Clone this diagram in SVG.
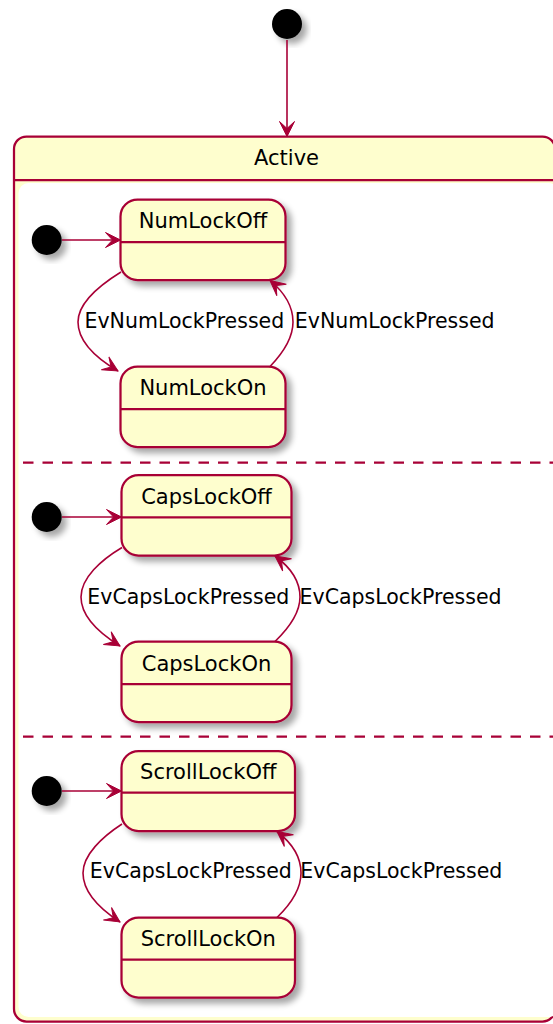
<svg xmlns="http://www.w3.org/2000/svg" width="553" height="1024" viewBox="0 0 553 1024">
<defs>
<style>
.st{fill:#FEFECE;stroke:#A80036;stroke-width:2.25}
.sep{stroke:#A80036;stroke-width:2.25;fill:none}
.nm{font-family:"DejaVu Sans",sans-serif;font-size:21px;fill:#000;text-anchor:middle}
.lb{font-family:"DejaVu Sans",sans-serif;font-size:20.5px;fill:#000}
.ed{fill:none;stroke:#A80036;stroke-width:1.6;marker-end:url(#ah)}
.init{fill:#000}
.dash{stroke:#A80036;stroke-width:2.25;stroke-dasharray:10.5,9;fill:none}
</style>
<marker id="ah" viewBox="-17 -9 19 18" refX="0" refY="0" markerWidth="19" markerHeight="18" markerUnits="userSpaceOnUse" orient="auto">
<path d="M0,0 L-15,-7.5 L-8,0 L-15,7.5 Z" fill="#A80036" stroke="#A80036" stroke-width="1"/>
</marker>
<filter id="sh" x="-20%" y="-20%" width="150%" height="150%">
<feGaussianBlur in="SourceAlpha" stdDeviation="3"/>
<feOffset dx="5" dy="5"/>
<feComponentTransfer><feFuncA type="linear" slope="0.35"/></feComponentTransfer>
<feMerge><feMergeNode/><feMergeNode in="SourceGraphic"/></feMerge>
</filter>
</defs>
<rect width="553" height="1024" fill="#fff"/>

<g id="start">
<circle class="init" cx="287" cy="24" r="15" filter="url(#sh)"/>
</g>

<g id="Active">
<rect class="st" x="14" y="136.5" width="541" height="885" rx="12.5"/>
<rect x="18.5" y="183" width="540" height="834" rx="10" fill="#fff"/>
<line class="sep" x1="14" y1="180" x2="555" y2="180"/>
<text class="nm" x="286.5" y="165">Active</text>
<line class="dash" x1="23" y1="462.7" x2="553" y2="462.7"/>
<line class="dash" x1="23" y1="736.7" x2="553" y2="736.7"/>
</g>

<g id="init1"><circle class="init" cx="46.7" cy="240" r="15" filter="url(#sh)"/></g>
<g id="init2"><circle class="init" cx="46.7" cy="517" r="15" filter="url(#sh)"/></g>
<g id="init3"><circle class="init" cx="46.7" cy="791" r="15" filter="url(#sh)"/></g>

<g id="NumLockOff">
<rect class="st" x="120.5" y="199.5" width="165" height="80.5" rx="17" filter="url(#sh)"/>
<line class="sep" x1="120.5" y1="242" x2="285.5" y2="242"/>
<text class="nm" x="203" y="228">NumLockOff</text>
</g>
<g id="NumLockOn">
<rect class="st" x="120.5" y="366.5" width="165" height="80.5" rx="17" filter="url(#sh)"/>
<line class="sep" x1="120.5" y1="409" x2="285.5" y2="409"/>
<text class="nm" x="203" y="395">NumLockOn</text>
</g>
<g id="CapsLockOff">
<rect class="st" x="121.5" y="475" width="170" height="80.5" rx="17" filter="url(#sh)"/>
<line class="sep" x1="121.5" y1="517.3" x2="291.5" y2="517.3"/>
<text class="nm" x="206.5" y="504">CapsLockOff</text>
</g>
<g id="CapsLockOn">
<rect class="st" x="121.5" y="641.5" width="170" height="80.5" rx="17" filter="url(#sh)"/>
<line class="sep" x1="121.5" y1="684" x2="291.5" y2="684"/>
<text class="nm" x="206.5" y="670.5">CapsLockOn</text>
</g>
<g id="ScrollLockOff">
<rect class="st" x="121.5" y="751" width="173.5" height="80" rx="17" filter="url(#sh)"/>
<line class="sep" x1="121.5" y1="792.5" x2="295" y2="792.5"/>
<text class="nm" x="208.3" y="779">ScrollLockOff</text>
</g>
<g id="ScrollLockOn">
<rect class="st" x="121.5" y="917.5" width="173.5" height="80" rx="17" filter="url(#sh)"/>
<line class="sep" x1="121.5" y1="959.5" x2="295" y2="959.5"/>
<text class="nm" x="208.3" y="946">ScrollLockOn</text>
</g>

<g id="connectors">
<path class="ed" d="M287,40 L287,136.5"/>
<path class="ed" d="M62,240 L120.5,240"/>
<path class="ed" d="M62,517 L121.5,517"/>
<path class="ed" d="M62,791 L121.5,791"/>

<path class="ed" d="M121,272 C100,285 78,303 78,322 C78,342 96,358 118,371"/>
<path class="ed" d="M270,366.5 C284,352 293,338 293,322 C293,305 284,292 270,280.5"/>
<text class="lb" x="84.5" y="328.3">EvNumLockPressed</text>
<text class="lb" x="294.8" y="328.3">EvNumLockPressed</text>

<path class="ed" d="M122,547.5 C101,560 81,578 81,597 C81,617 99,633 120,646"/>
<path class="ed" d="M275,641.5 C290,627 300,613 300,597 C300,580 290,567 275,556"/>
<text class="lb" x="87.3" y="604">EvCapsLockPressed</text>
<text class="lb" x="299.6" y="604">EvCapsLockPressed</text>

<path class="ed" d="M122,824 C102,837 83,855 83,873 C83,893 100,909 120,922"/>
<path class="ed" d="M277,917.5 C292,903 301,889 301,873 C301,856 292,843 277,831.5"/>
<text class="lb" x="89.8" y="878.3">EvCapsLockPressed</text>
<text class="lb" x="300.3" y="878.3">EvCapsLockPressed</text>
</g>
</svg>
